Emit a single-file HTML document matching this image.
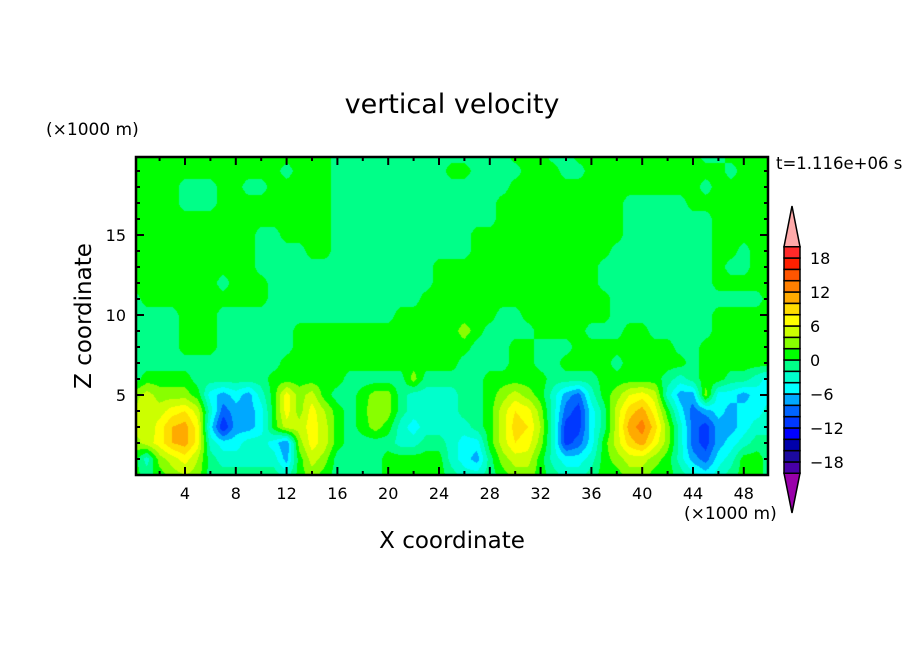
<!DOCTYPE html>
<html><head><meta charset="utf-8"><style>
html,body{margin:0;padding:0;background:#fff;}
#wrap{position:relative;width:904px;height:654px;overflow:hidden;font-family:"DejaVu Sans","Liberation Sans",sans-serif;}
canvas{position:absolute;left:0;top:0;}
svg{position:absolute;left:0;top:0;}
</style></head><body>
<div id="wrap">
<canvas id="field" width="904" height="654"></canvas>
<svg id="ov" width="904" height="654">
<text x="452" y="113" text-anchor="middle" font-size="27" fill="#000">vertical velocity</text>
<text x="46" y="135" font-size="17" fill="#000">(×1000 m)</text>
<text x="776" y="169" font-size="16.5" fill="#000">t=1.116e+06 s</text>
<text x="684" y="519" font-size="17" fill="#000">(×1000 m)</text>
<text x="452" y="548" text-anchor="middle" font-size="23" fill="#000">X coordinate</text>
<text x="0" y="0" transform="translate(91,316) rotate(-90)" text-anchor="middle" font-size="23" fill="#000">Z coordinate</text>
<g id="axes"></g>
<g id="cbar"></g>
</svg>
</div>
<script>
// ---- data ----
const xTicks = [4, 8, 12, 16, 20, 24, 28, 32, 36, 40, 44, 48];
const zTicks = [5, 10, 15];
const levels = [-20,-18,-16,-14,-12,-10,-8,-6,-4,-2,0,2,4,6,8,10,12,14,16,18,20];
const levelColors = ["#4800a8","#1c0aa0","#0000aa","#0000ff","#0038ff","#0064ff","#00a8ff","#00ffff","#00ffcc","#00ff88","#00ff00","#88ff00","#ccff00","#ffff00","#ffdd00","#ffaa00","#ff8000","#ff5500","#ff2000","#ff2a2a"];
const cbarLabels = [18, 12, 6, 0, -6, -12, -18];
// grid rows at z = 0..6 (km), x = 0..50 (km)
const row0 = [1,-1,1,3,4,3,-1,-1,-1,-1,-1,-1,-3,1,3,1,-1,-1,-1,-1,1,1,1,1,1,-1,-3,-3,-1,1,3,3,1,-1,-3,-3,-1,1,1,3,3,1,1,-1,-3,-5,-3,-1,1,1,-1];
const row1 = [1,-3,3,5,7,4,-1,-3,-3,-3,-3,-3,-7,1,5,3,-1,-1,-1,-1,1,1,1,1,1,-3,-5,-7,-1,3,5,5,1,-3,-5,-5,-3,1,3,5,5,3,1,-3,-7,-9,-5,-3,1,1,-1];
const row2 = [3,5,7,10,11,7,-3,-5,-5,-3,-3,-5,-8,3,7,5,1,-1,-1,-1,-1,-3,-3,-1,-1,-3,-5,-5,1,5,8,7,3,-3,-11,-9,-5,1,5,9,11,7,3,-3,-9,-11,-7,-5,-3,-1,-1];
const row3 = [5,4,7,10,11,7,-5,-12,-7,-7,-5,1,5,5,7,5,1,-1,1,3,1,-3,-5,-3,-3,-3,-3,-1,1,5,9,8,4,-3,-11,-11,-5,-1,5,11,13,9,3,-3,-9,-11,-7,-7,-5,-3,-3];
const row4 = [4,6,5,7,8,5,-3,-9,-7,-7,-5,1,7,3,7,4,1,-1,1,4,3,-1,-3,-3,-3,-3,-1,-1,1,5,8,7,3,-3,-9,-11,-5,-1,5,9,11,7,1,-5,-9,-7,-5,-7,-5,-5,-3];
const row5 = [3,5,3,3,3,1,-5,-7,-5,-7,-3,1,7,3,5,1,-1,-1,1,3,3,-1,-3,-3,-3,-3,-1,-1,1,3,5,3,1,-3,-7,-9,-3,1,3,6,7,5,-3,-7,-7,3,-5,-5,-7,-5,-5];
const row6 = [-1,1,1,1,1,-1,-1,-1,-1,-1,-1,1,1,1,1,1,1,-1,-1,-1,-1,-1,3,-1,-1,-1,-1,-1,1,1,1,1,1,-1,-1,-1,-1,1,1,1,1,1,-1,-3,-1,1,1,-1,-1,-3,-5];
// rows z = 7..20 : g = 0..2 (green), m = -2..0 (mint), y = 2..4
const upperRows = [
"mmmmmmmmmmmmggggggggggggggmmmmggmmggggmgggggmgggggg",
"mmmmgggmmmmmmggggggggggggggmmmggmmmggggggggmmgggggg",
"mmmmgggmmmmmmgggggggggggggygmmmmggggmmmggmmmmmggggg",
"mmmmgggmmmmmmmmmmmmmmggggggggmmgggggggmmmmmmmmggggg",
"mggggggggggmmmmmmmmmmmmgggggggggggggggmmmmmmmmmmmmgg",
"gggggggmgggmmmmmmmmmmmmmgggggggggggggmmmmmmmmmggggg",
"ggggggggggmmmmmmmmmmmmmmgggggggggggggmmmmmmmmmgmmgg",
"ggggggggggmmmmggmmmmmmmmmmmgggggggggggmmmmmmmmggmgg",
"ggggggggggmmggggmmmmmmmmmmmggggggggggggmmmmmmmggggg",
"ggggggggggggggggmmmmmmmmmmmmmggggggggggmmmmmmmggggg",
"ggggmmmgggggggggmmmmmmmmmmmmmggggggggggmmmmmgggggggg",
"ggggmmmggmmgggggmmmmmmmmmmmmmmgggggggggggggggmggggg",
"ggggggggggggmgggmmmmmmmmmggmmmmgggmmgggggggggggmgggg",
"ggggggggggggggggmmmmmmmmmmmmmmgggmmggggggggggmmgggg"
];
// ---- build grid ----
const charVal = {g:1, m:-1, y:3};
const grid = [row0,row1,row2,row3,row4,row5,row6];
upperRows.forEach(s => { const r=[]; for(let i=0;i<51;i++){ r.push(charVal[s[i]||'g']); } grid.push(r); });

// ---- scales ----
const X0=134.2, XS=12.7, Z0=475, ZS=16;
const xScale = x => X0 + XS*x;
const zScale = z => Z0 - ZS*z;
const PL=136, PR=768, PT=157, PB=475;

// ---- draw field ----
const cv=document.getElementById('field'); const ctx=cv.getContext('2d');
const rgb = levelColors.map(h=>[parseInt(h.substr(1,2),16),parseInt(h.substr(3,2),16),parseInt(h.substr(5,2),16)]);
const img=ctx.createImageData(PR-PL, PB-PT);
for(let py=PT;py<PB;py++){
  for(let px=PL;px<PR;px++){
    let x=(px+0.5-X0)/XS, z=(Z0-(py+0.5))/ZS;
    x=Math.max(0,Math.min(50,x)); z=Math.max(0,Math.min(20,z));
    const i=Math.min(49,Math.floor(x)), j=Math.min(19,Math.floor(z));
    const fx=x-i, fz=z-j;
    const v=(grid[j][i]*(1-fx)+grid[j][i+1]*fx)*(1-fz)+(grid[j+1][i]*(1-fx)+grid[j+1][i+1]*fx)*fz;
    let k=Math.floor((v-levels[0])/2); k=Math.max(0,Math.min(levelColors.length-1,k));
    const o=((py-PT)*(PR-PL)+(px-PL))*4;
    img.data[o]=rgb[k][0]; img.data[o+1]=rgb[k][1]; img.data[o+2]=rgb[k][2]; img.data[o+3]=255;
  }
}
ctx.putImageData(img,PL,PT);

// ---- axes ----
const NS='http://www.w3.org/2000/svg';
const axes=document.getElementById('axes');
function mk(tag,attrs,parent){const e=document.createElementNS(NS,tag);for(const k in attrs)e.setAttribute(k,attrs[k]);parent.appendChild(e);return e;}
const frame=mk('rect',{x:PL,y:PT,width:PR-PL,height:PB-PT,fill:'none',stroke:'#000','stroke-width':2.5},axes);


for(let v=2; v<=48; v+=2){
  const major = xTicks.indexOf(v)>=0; const L = major?8:4; const x=xScale(v);
  const t1=mk('line',{x1:x,x2:x,y1:PB,y2:PB-L,stroke:'#000','stroke-width':2},axes);
  
  
  const t2=mk('line',{x1:x,x2:x,y1:PT,y2:PT+L,stroke:'#000','stroke-width':2},axes);
  
  
}
xTicks.forEach(v=>{
  const t=mk('text',{x:xScale(v),y:499,'text-anchor':'middle','font-size':16,fill:'#000'},axes); t.textContent=v;
  
  
});
for(let v=1; v<=19; v++){
  const major = zTicks.indexOf(v)>=0; const L = major?8:4; const y=zScale(v);
  const t1=mk('line',{x1:PL,x2:PL+L,y1:y,y2:y,stroke:'#000','stroke-width':2},axes);
  
  
  const t2=mk('line',{x1:PR,x2:PR-L,y1:y,y2:y,stroke:'#000','stroke-width':2},axes);
  
  
}
zTicks.forEach(v=>{
  const t=mk('text',{x:126,y:zScale(v)+6,'text-anchor':'end','font-size':16,fill:'#000'},axes); t.textContent=v;
  
  
});

// ---- colorbar ----
const cb=document.getElementById('cbar');
const CX=784, CW=16, CT=246.7, CB=473.3, bh=(CB-CT)/levelColors.length;
for(let k=0;k<levelColors.length;k++){
  const y=CB-(k+1)*bh;
  const r=mk('rect',{x:CX,y:y,width:CW,height:bh,fill:levelColors[k],stroke:'#000','stroke-width':1.5},cb);
  
  
}
const tu=mk('polygon',{points:`${CX},${CT} ${CX+CW},${CT} ${CX+CW/2},206`,fill:'#ffaaaa',stroke:'#000','stroke-width':1.5},cb);


const td=mk('polygon',{points:`${CX},${CB} ${CX+CW},${CB} ${CX+CW/2},513`,fill:'#9900aa',stroke:'#000','stroke-width':1.5},cb);


cbarLabels.forEach(v=>{
  const y=CB-((v-levels[0])/2)*bh;
  const t=mk('text',{x:810,y:y+6,'font-size':16,fill:'#000'},cb); t.textContent=(v<0?'\u2212'+(-v):v);
  
  
});
</script>
</body></html>
